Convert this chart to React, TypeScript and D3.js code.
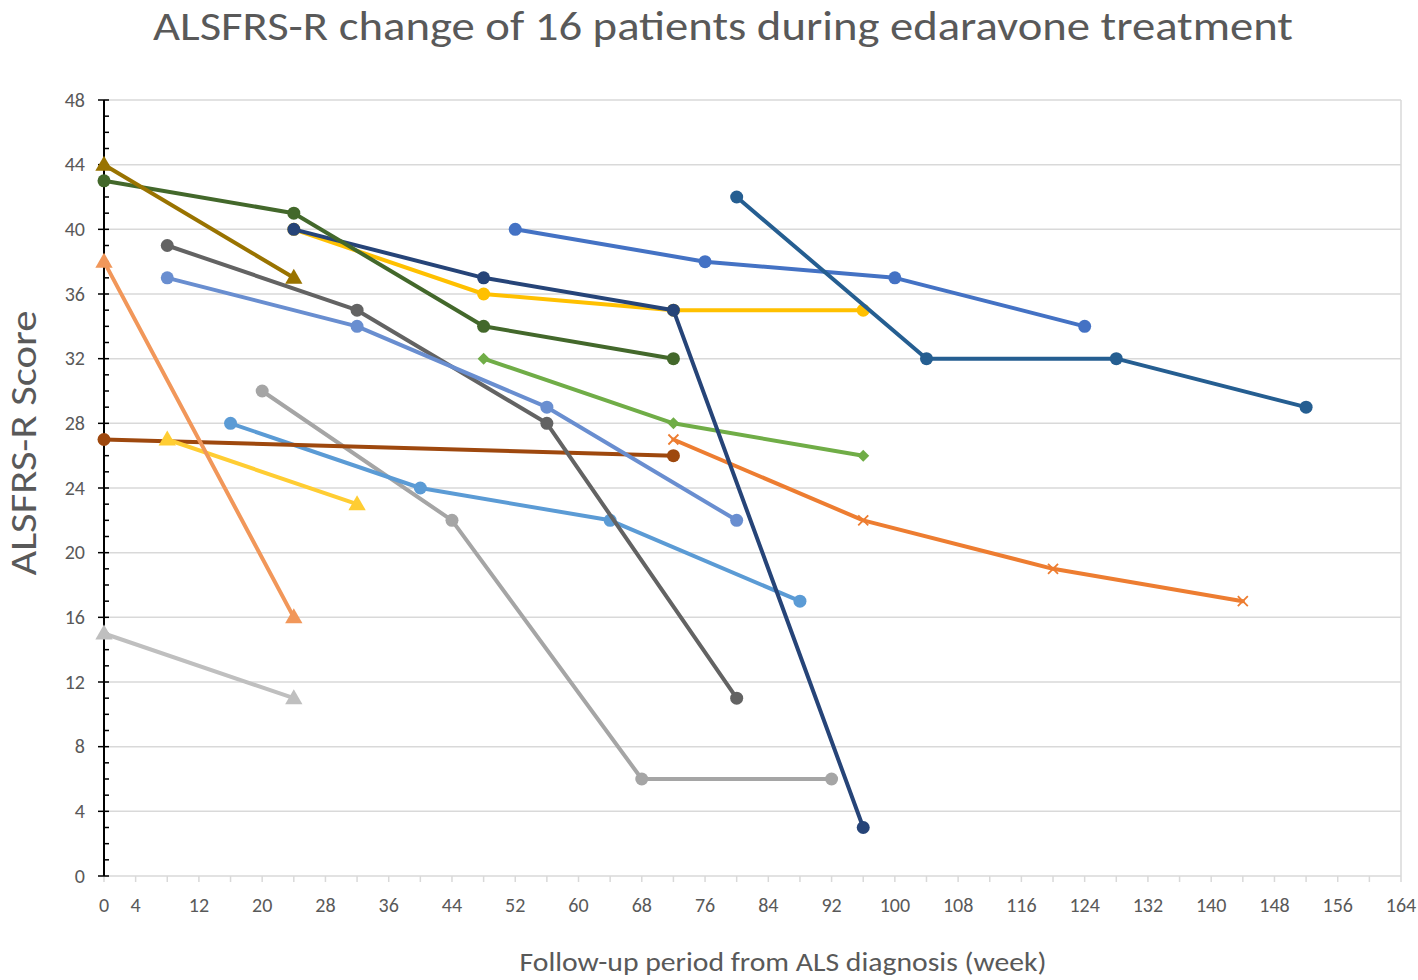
import React from "react";
import * as d3 from "d3";

const title = "ALSFRS-R change of 16 patients during edaravone treatment";
const xLabel = "Follow-up period from ALS diagnosis (week)";
const yLabel = "ALSFRS-R Score";

const xTickLabels = [0, 4, 12, 20, 28, 36, 44, 52, 60, 68, 76, 84, 92, 100, 108, 116, 124, 132, 140, 148, 156, 164];
const yTickLabels = [0, 4, 8, 12, 16, 20, 24, 28, 32, 36, 40, 44, 48];

type Pt = [number, number];
interface Series { name: string; color: string; marker: "circle" | "triangle" | "diamond" | "x"; points: Pt[]; }

const p1: Pt[] = [[52, 40], [76, 38], [100, 37], [124, 34]];
const p2: Pt[] = [[72, 27], [96, 22], [120, 19], [144, 17]];
const p3: Pt[] = [[20, 30], [44, 22], [68, 6], [92, 6]];
const p4: Pt[] = [[24, 40], [48, 36], [72, 35], [96, 35]];
const p5: Pt[] = [[16, 28], [40, 24], [64, 22], [88, 17]];
const p6: Pt[] = [[48, 32], [72, 28], [96, 26]];
const p7: Pt[] = [[24, 40], [48, 37], [72, 35], [96, 3]];
const p8: Pt[] = [[0, 27], [72, 26]];
const p9: Pt[] = [[8, 39], [32, 35], [56, 28], [80, 11]];
const p10: Pt[] = [[8, 37], [32, 34], [56, 29], [80, 22]];
const p11: Pt[] = [[0, 43], [24, 41], [48, 34], [72, 32]];
const p12: Pt[] = [[8, 27], [32, 23]];
const p13: Pt[] = [[0, 15], [24, 11]];
const p14: Pt[] = [[0, 38], [24, 16]];
const p15: Pt[] = [[0, 44], [24, 37]];
const p16: Pt[] = [[80, 42], [104, 32], [128, 32], [152, 29]];

const series: Series[] = [
  { name: "P1", color: "#4472C4", marker: "circle", points: p1 },
  { name: "P2", color: "#ED7D31", marker: "x", points: p2 },
  { name: "P3", color: "#A5A5A5", marker: "circle", points: p3 },
  { name: "P4", color: "#FFC000", marker: "circle", points: p4 },
  { name: "P5", color: "#5B9BD5", marker: "circle", points: p5 },
  { name: "P6", color: "#70AD47", marker: "diamond", points: p6 },
  { name: "P7", color: "#264478", marker: "circle", points: p7 },
  { name: "P8", color: "#9E480E", marker: "circle", points: p8 },
  { name: "P9", color: "#636363", marker: "circle", points: p9 },
  { name: "P10", color: "#698ED0", marker: "circle", points: p10 },
  { name: "P11", color: "#43682B", marker: "circle", points: p11 },
  { name: "P12", color: "#FFCD33", marker: "triangle", points: p12 },
  { name: "P13", color: "#BFBFBF", marker: "triangle", points: p13 },
  { name: "P14", color: "#F1975A", marker: "triangle", points: p14 },
  { name: "P15", color: "#997300", marker: "triangle", points: p15 },
  { name: "P16", color: "#255E91", marker: "circle", points: p16 },
];

const W = 1418, H = 980;
const left = 104, right = 1401, top = 100, bottom = 876;
const FONT = "Calibri, Carlito, 'Open Sans', 'Noto Sans', sans-serif";
const TXT = "#595959";

export default function App() {
  const x = d3.scaleLinear().domain([0, 164]).range([left, right]);
  const y = d3.scaleLinear().domain([0, 48]).range([bottom, top]);
  const line = d3.line<Pt>().x((d) => x(d[0])).y((d) => y(d[1]));
  const xMinor = d3.range(0, 165, 4);
  const yMinor = d3.range(0, 49, 1);

  const marker = (s: Series, d: Pt, i: number) => {
    const cx = x(d[0]), cy = y(d[1]);
    if (s.marker === "circle") return <circle key={i} cx={cx} cy={cy} r={6.5} fill={s.color} />;
    if (s.marker === "triangle") {
      const sym = d3.symbol(d3.symbolTriangle, 130)();
      return <path key={i} d={sym || ""} transform={`translate(${cx},${cy + 1})`} fill={s.color} />;
    }
    if (s.marker === "diamond") {
      return <path key={i} d={`M${cx},${cy - 6}L${cx + 6},${cy}L${cx},${cy + 6}L${cx - 6},${cy}Z`} fill={s.color} />;
    }
    return (
      <path key={i} d={`M${cx - 5},${cy - 5}L${cx + 5},${cy + 5}M${cx - 5},${cy + 5}L${cx + 5},${cy - 5}`} stroke={s.color} strokeWidth={1.8} fill="none" />
    );
  };

  return (
    <svg width={W} height={H} style={{ position: "absolute", left: 0, top: 0, background: "#fff" }} fontFamily={FONT}>
      <rect width={W} height={H} fill="#fff" />
      <text x={723} y={40} textAnchor="middle" fontSize={40} fill={TXT} textLength={1140} lengthAdjust="spacingAndGlyphs">{title}</text>
      {yTickLabels.map((v) => (
        <line key={"g" + v} x1={left} x2={right} y1={y(v)} y2={y(v)} stroke="#D9D9D9" strokeWidth={1.5} />
      ))}
      <line x1={right} x2={right} y1={top} y2={bottom} stroke="#D9D9D9" strokeWidth={1.5} />
      {xMinor.map((v) => (
        <line key={"xt" + v} x1={x(v)} x2={x(v)} y1={bottom} y2={bottom + 6} stroke="#D9D9D9" strokeWidth={1.5} />
      ))}
      {xTickLabels.map((v) => (
        <text key={"xl" + v} x={x(v)} y={912} textAnchor="middle" fontSize={20} fill={TXT}>{v}</text>
      ))}
      {yMinor.map((v) => (
        v % 4 === 0
          ? <line key={"ym" + v} x1={left - 6} x2={left + 5} y1={y(v)} y2={y(v)} stroke="#000" strokeWidth={1.5} />
          : <line key={"ym" + v} x1={left} x2={left + 5} y1={y(v)} y2={y(v)} stroke="#000" strokeWidth={1.5} />
      ))}
      <line x1={left} x2={left} y1={top} y2={bottom} stroke="#000" strokeWidth={2} />
      {yTickLabels.map((v) => (
        <text key={"yl" + v} x={85} y={y(v) + 6.5} textAnchor="end" fontSize={20} fill={TXT}>{v}</text>
      ))}
      {series.map((s) => (
        <g key={s.name}>
          <path d={line(s.points) || ""} fill="none" stroke={s.color} strokeWidth={4} strokeLinejoin="round" strokeLinecap="round" />
          {s.points.map((d, i) => marker(s, d, i))}
        </g>
      ))}
      <text transform={`translate(36,443) rotate(-90)`} textAnchor="middle" fontSize={36} fill={TXT} textLength={265} lengthAdjust="spacingAndGlyphs">{yLabel}</text>
      <text x={783} y={971} textAnchor="middle" fontSize={27} fill={TXT} textLength={527} lengthAdjust="spacingAndGlyphs">{xLabel}</text>
    </svg>
  );
}
